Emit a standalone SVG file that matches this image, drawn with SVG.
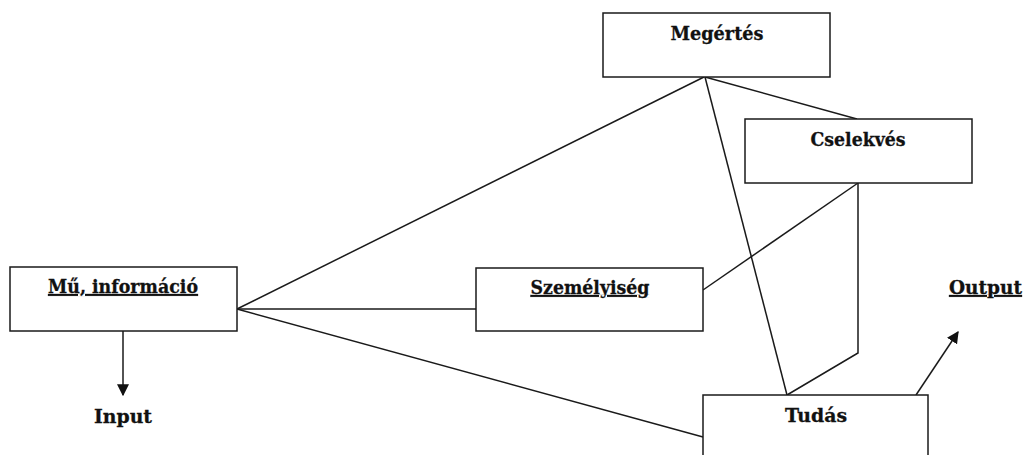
<svg xmlns="http://www.w3.org/2000/svg" width="1025" height="455" viewBox="0 0 1025 455">
<style>
.box{fill:#fff;stroke:#1a1a1a;stroke-width:1.5}
.lbl{font-family:"DejaVu Serif","Liberation Serif",serif;font-weight:bold;font-size:19px;fill:#111;stroke:#111;stroke-width:0.3;text-anchor:middle}
.u{text-decoration:underline}
.c{fill:none;stroke:#1a1a1a;stroke-width:1.5}
</style>
<defs>
<marker id="ah2" viewBox="0 0 10 10" refX="9" refY="5" markerWidth="12" markerHeight="12" markerUnits="userSpaceOnUse" orient="auto">
<path d="M0,0 L10,5 L0,10 z" fill="#111"/>
</marker>
</defs>
<rect width="1025" height="455" fill="#fff"/>
<g id="connectors">
<line class="c" x1="237" y1="309" x2="704" y2="77"/>
<line class="c" x1="237" y1="309" x2="476" y2="309"/>
<line class="c" x1="237" y1="309" x2="703" y2="437"/>
<line class="c" x1="705" y1="77" x2="857" y2="119"/>
<line class="c" x1="705" y1="77" x2="787" y2="395"/>
<line class="c" x1="858" y1="183" x2="703" y2="290"/>
<polyline class="c" points="858,183 858,353 787,395"/>
<line class="c" x1="123" y1="331" x2="123" y2="395" marker-end="url(#ah2)"/>
<line class="c" x1="916" y1="395" x2="958" y2="332" marker-end="url(#ah2)"/>
</g>
<g id="node-mu">
<rect class="box" x="10" y="267" width="227" height="64"/>
<text class="lbl u" x="123" y="293" textLength="150" lengthAdjust="spacingAndGlyphs">Mű, információ</text>
</g>
<g id="node-input">
<text class="lbl" x="123" y="423" textLength="58" lengthAdjust="spacingAndGlyphs">Input</text>
</g>
<g id="node-megertes">
<rect class="box" x="603" y="13" width="227" height="64"/>
<text class="lbl" x="717" y="40" textLength="93" lengthAdjust="spacingAndGlyphs">Megértés</text>
</g>
<g id="node-cselekves">
<rect class="box" x="745" y="119" width="227" height="64"/>
<text class="lbl" x="858" y="146" textLength="95" lengthAdjust="spacingAndGlyphs">Cselekvés</text>
</g>
<g id="node-szemelyiseg">
<rect class="box" x="476" y="268" width="227" height="63"/>
<text class="lbl u" x="590" y="294" textLength="119" lengthAdjust="spacingAndGlyphs">Személyiség</text>
</g>
<g id="node-tudas">
<rect class="box" x="703" y="395" width="225" height="70"/>
<text class="lbl" x="816" y="422" textLength="62" lengthAdjust="spacingAndGlyphs">Tudás</text>
</g>
<g id="node-output">
<text class="lbl u" x="985.5" y="294" textLength="73" lengthAdjust="spacingAndGlyphs">Output</text>
</g>
</svg>
